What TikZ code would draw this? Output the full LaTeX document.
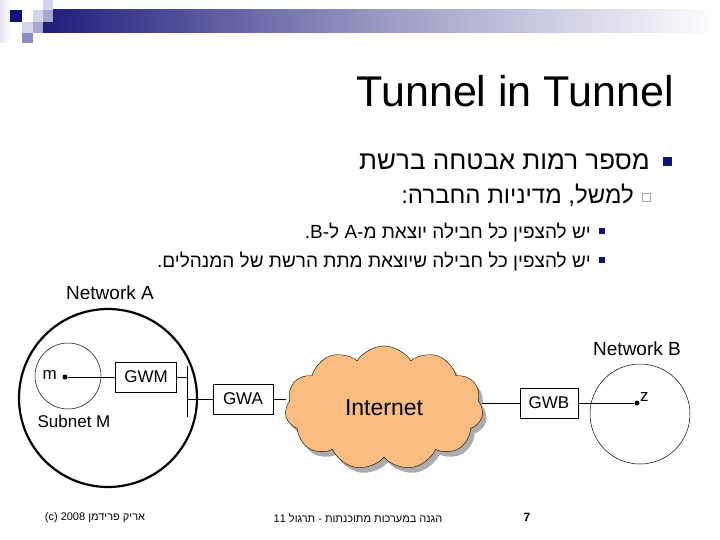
\documentclass[tikz,border=0pt]{standalone}
\usepackage{fontspec}
\setmainfont{Liberation Sans}
\newfontfamily\heb[Script=Hebrew]{Liberation Sans}
\TeXXeTstate=1
\usetikzlibrary{shapes.symbols,shadows}
\definecolor{navy}{HTML}{10107A}
\definecolor{barnavy}{HTML}{1E1E7C}
\definecolor{lavL}{HTML}{D4D4EA}
\definecolor{lavM}{HTML}{A6A6D0}
\definecolor{lavD}{HTML}{8C8CC2}
\definecolor{cloudorange}{HTML}{F9BD82}
\tikzset{
  hb/.style={font=\heb\fontsize{#1}{#1}\selectfont, anchor=base east, inner sep=0},
  gw/.style={draw, line width=0.6pt, minimum width=#1, minimum height=30pt, inner sep=0, font=\fontsize{17}{17}\selectfont},
  lbl/.style={font=\fontsize{#1}{#1}\selectfont, inner sep=0},
  wire/.style={line width=0.6pt},
  bulA/.style={fill=navy, minimum size=9pt, inner sep=0},
  bulC/.style={fill=navy, minimum size=6pt, inner sep=0},
  bulB/.style={draw=gray!70, line width=0.5pt, minimum size=8pt, inner sep=0},
  dot/.style={circle, fill=black, minimum size=5pt, inner sep=0},
}
\begin{document}
\begin{tikzpicture}[x=1pt,y=-1pt]
\useasboundingbox (0,0) rectangle (720,540);
\fill[white] (0,0) rectangle (720,540);
% header
\shade[left color=lavL!60, right color=white] (0,0) rectangle (10,43);
\shade[left color=barnavy, right color=white, middle color=barnavy!45] (43,10) rectangle (720,33);
\fill[lavL] (43,0) rectangle (53,10);
\fill[navy] (10,10) rectangle (22,22);
\fill[lavL] (33,10) rectangle (43,22);
\fill[lavM] (43,10) rectangle (53,22);
\fill[lavL] (22,22) rectangle (33,33);
\fill[lavM] (33,22) rectangle (43,33);
\fill[lavD] (22,33) rectangle (33,43);
% title
\node[lbl=43, anchor=base east] (title) at (674,107) {Tunnel in Tunnel};
% bullets
\node[bulA] (ba) at (667,162) {};
\node[hb=26] (t1) at (650,170) {\beginR מספר רמות אבטחה ברשת\endR};
\node[bulB] (bb) at (646,197) {};
\node[hb=24] (t2) at (634,204) {\beginR למשל, מדיניות החברה:\endR};
\node[bulC] (bc1) at (602,231) {};
\node[hb=19] (t3) at (591,238) {\beginR יש להצפין כל חבילה יוצאת מ-A ל-B.\endR};
\node[bulC] (bc2) at (602,260) {};
\node[hb=19] (t4) at (591,267) {\beginR יש להצפין כל חבילה שיוצאת מתת הרשת של המנהלים.\endR};
% diagram
\node[lbl=19] (netA) at (110,293) {Network A};
\draw[line width=2.2pt] (108,398) circle[radius=89];
\draw[line width=0.5pt] (68,376) circle[radius=33];
\node[dot] (m) at (65,377) {};
\node[lbl=17, anchor=south east] (mlbl) at (57,380) {m};
\node[lbl=17] (subM) at (74,421) {Subnet M};
\node[gw=61pt] (gwm) at (146,377) {GWM};
\coordinate (bartop) at (187,366);
\coordinate (barbot) at (187,417);
\draw[wire] (bartop) -- (barbot);
\node[gw=60pt] (gwa) at (243,399) {GWA};
\draw[wire] (m) -- (m -| gwm.west);
\draw[wire] (gwm.east) -- (gwm.east -| bartop);
\draw[wire] (gwa.west -| bartop) -- (gwa.west);
\node[cloud, cloud puffs=11, cloud puff arc=115, aspect=1.6, draw, line width=0.4pt,
      fill=cloudorange, minimum width=198pt, minimum height=124pt, inner sep=0,
      drop shadow={shadow xshift=4pt, shadow yshift=-5pt, fill=gray!65, opacity=1},
      font=\fontsize{23}{23}\selectfont] (inet) at (384,408) {Internet};
\draw[wire] (gwa.east) -- (gwa.east -| inet.west);
\node[gw=58pt] (gwb) at (549,403) {GWB};
\draw[wire] (gwb.west) -- (gwb.west -| inet.east);
\draw[line width=0.5pt] (640,414) circle[radius=50];
\node[dot] (z) at (637,403) {};
\node[lbl=17, anchor=south west] (zlbl) at (640,402) {z};
\draw[wire] (gwb.east) -- (z);
\node[lbl=19] (netB) at (637,349) {Network B};
% footer
\node[lbl=11] (f1) at (95,518) {(c) 2008 {\heb\beginR אריק פרידמן\endR}};
\node[lbl=11] (f2) at (358,518) {\heb\beginR הגנה במערכות מתוכנתות - תרגול 11\endR};
\node[font=\bfseries\fontsize{12}{12}\selectfont, inner sep=0] (pg) at (527,517) {7};
\end{tikzpicture}
\end{document}
